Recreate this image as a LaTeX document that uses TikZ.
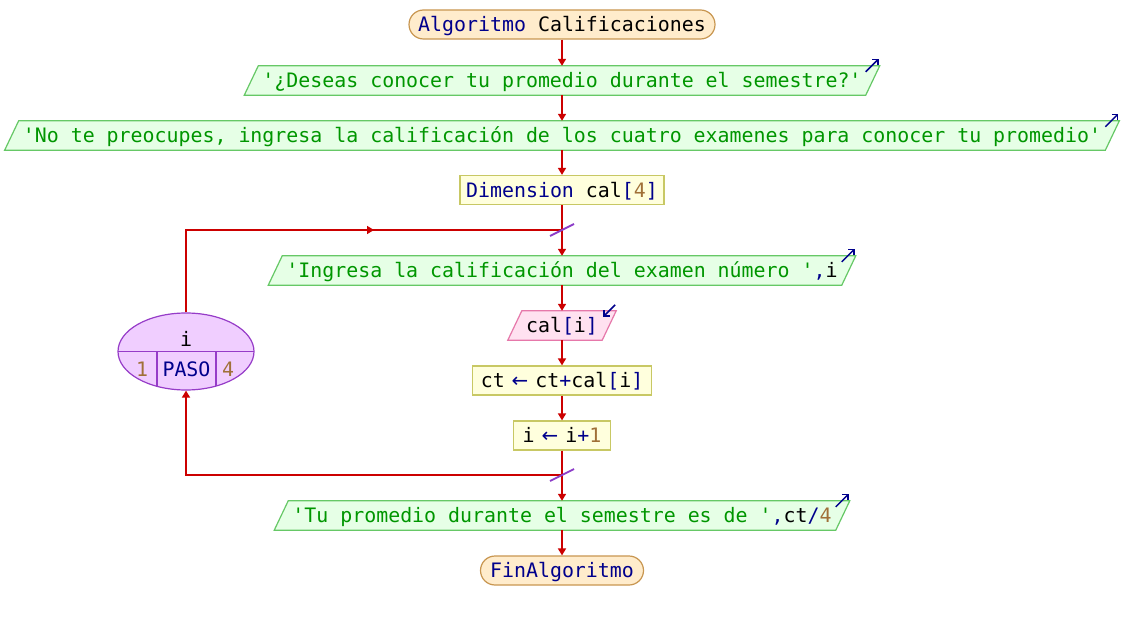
\documentclass[tikz,border=0pt]{standalone}
\usepackage{fontspec}
\setmonofont{DejaVu Sans Mono}
\newfontfamily\arrowfont{DejaVu Sans}
\usetikzlibrary{shapes.geometric,arrows.meta,calc}

% palette
\definecolor{kwblue}{RGB}{0,0,140}
\definecolor{strgreen}{RGB}{0,150,0}
\definecolor{numbrown}{RGB}{160,112,56}
\definecolor{flowred}{RGB}{204,0,0}
\definecolor{termfill}{RGB}{255,236,204}
\definecolor{termline}{RGB}{200,150,80}
\definecolor{iofill}{RGB}{230,255,230}
\definecolor{ioline}{RGB}{102,200,102}
\definecolor{procfill}{RGB}{255,255,221}
\definecolor{procline}{RGB}{200,200,100}
\definecolor{infill}{RGB}{255,225,240}
\definecolor{inline}{RGB}{230,120,170}
\definecolor{loopfill}{RGB}{240,206,255}
\definecolor{loopline}{RGB}{150,60,200}
\definecolor{marker}{RGB}{140,60,200}

% coloured tokens
\newcommand\pkw[1]{\textcolor{kwblue}{#1}}
\newcommand\pstr[1]{\textcolor{strgreen}{#1}}
\newcommand\pnum[1]{\textcolor{numbrown}{#1}}
\newcommand\pasg{\hspace{7pt}\textcolor{kwblue}{\arrowfont ←}\hspace{7pt}}

\pgfdeclarelayer{bg}
\pgfsetlayers{bg,main}

\tikzset{
  txt/.style={font=\ttfamily\fontsize{19.9}{22}\selectfont, text=black,
    text height=19pt, text depth=4.6pt, inner ysep=0pt, minimum height=29pt},
  terminal/.style={txt, draw=termline, fill=termfill, line width=1.2pt,
    rounded corners=14.5pt},
  procbox/.style={txt, draw=procline, fill=procfill, line width=1.2pt},
  iotext/.style={txt, inner xsep=11pt},
  outshape/.style={draw=ioline, fill=iofill, line width=1.2pt},
  inshape/.style={draw=inline, fill=infill, line width=1.2pt},
  flow/.style={draw=flowred, line width=1.6pt, -{Triangle[width=8pt,length=7pt]}},
  link/.style={draw=flowred, line width=1.6pt},
  icon/.style={draw=kwblue, line width=1.5pt, -{Straight Barb[length=4pt,width=8pt]}},
  slash/.style={draw=marker, line width=1.8pt},
  looptext/.style={font=\ttfamily\fontsize{19.9}{22}\selectfont, inner sep=0pt, anchor=base}
}

% parallelogram behind an input/output node
\newcommand\slanted[2]{%
  \begin{pgfonlayer}{bg}
    \path[#2] ($(#1.south west)+(-7,0)$) -- ($(#1.north west)+(7,0)$)
      -- ($(#1.north east)+(7,0)$) -- ($(#1.south east)+(-7,0)$) -- cycle;
  \end{pgfonlayer}}

\begin{document}
\begin{tikzpicture}[x=1pt,y=-1pt]
\useasboundingbox (0,0) rectangle (1124,620);
\begin{pgfonlayer}{bg}
  \fill[white] (0,0) rectangle (1124,620);
\end{pgfonlayer}

% main sequence
\node[terminal, minimum width=306pt] (start) at (562,24.5) {\pkw{Algoritmo} Calificaciones};
\node[iotext] (o1) at (562,80.5) {\pstr{'¿Deseas conocer tu promedio durante el semestre?'}};
\slanted{o1}{outshape}
\node[iotext] (o2) at (562,135.5) {\pstr{'No te preocupes, ingresa la calificación de los cuatro examenes para conocer tu promedio'}};
\slanted{o2}{outshape}
\node[procbox, minimum width=204pt] (dim) at (562,190) {\pkw{Dimension} cal\pkw{[}\pnum{4}\pkw{]}};
\coordinate (j1) at (562,230);
\node[iotext] (o3) at (562,270.5) {\pstr{'Ingresa la calificación del examen número '}\pkw{,}i};
\slanted{o3}{outshape}
\node[iotext, minimum width=94pt] (inp) at (562,325.5) {cal\pkw{[}i\pkw{]}};
\slanted{inp}{inshape}
\node[procbox, minimum width=179pt] (a1) at (562,380.5) {ct\pasg ct\pkw{+}cal\pkw{[}i\pkw{]}};
\node[procbox, minimum width=97pt] (a2) at (562,435.5) {i\pasg i\pkw{+}\pnum{1}};
\coordinate (j2) at (562,475);
\node[iotext] (o4) at (562,515.5) {\pstr{'Tu promedio durante el semestre es de '}\pkw{,}ct\pkw{/}\pnum{4}};
\slanted{o4}{outshape}
\node[terminal, minimum width=163pt] (end) at (562,570.5) {\pkw{FinAlgoritmo}};

% output / input markers
\foreach \n in {o1,o2,o3,o4}
  \draw[icon] ($(\n.north east)+(-7,6)$) -- ($(\n.north east)+(6,-7)$);
\draw[icon] ($(inp.north east)+(6,-6)$) -- ($(inp.north east)+(-6,6)$);

% loop header
\node[ellipse, draw=loopline, fill=loopfill, line width=1.2pt,
      minimum width=136pt, minimum height=77pt, inner sep=0pt] (lp) at (186,351.5) {};
\begin{scope}
  \clip (lp.center) ellipse (68 and 38.5);
  \draw[loopline, line width=1.2pt] (lp.west) -- (lp.east);
  \draw[loopline, line width=1.2pt] (157,351.5) -- (157,400);
  \draw[loopline, line width=1.2pt] (216,351.5) -- (216,400);
\end{scope}
\node[looptext] (lvar) at (186,346) {i};
\node[looptext, text=numbrown] (lfrom) at (142,376) {1};
\node[looptext, text=kwblue] (lstep) at (186.5,376) {PASO};
\node[looptext, text=numbrown] (lto) at (228,376) {4};

% connectors
\draw[flow] (start) -- (o1);
\draw[flow] (o1) -- (o2);
\draw[flow] (o2) -- (dim);
\draw[link] (dim) -- (j1);
\draw[flow] (j1) -- (o3);
\draw[flow] (o3) -- (inp);
\draw[flow] (inp) -- (a1);
\draw[flow] (a1) -- (a2);
\draw[link] (a2) -- (j2);
\draw[flow] (j2) -- (o4);
\draw[flow] (o4) -- (end);

% loop back edges
\draw[link] (lp.north) |- (j1);
\draw[flow] (lp.north |- j1) -- ($(lp.north |- j1)!0.5!(j1)$);
\draw[flow] (j2) -| (lp.south);

% junction markers
\draw[slash] ($(j1)+(-12,6)$) -- ($(j1)+(12,-6)$);
\draw[slash] ($(j2)+(-12,6)$) -- ($(j2)+(12,-6)$);
\end{tikzpicture}
\end{document}
